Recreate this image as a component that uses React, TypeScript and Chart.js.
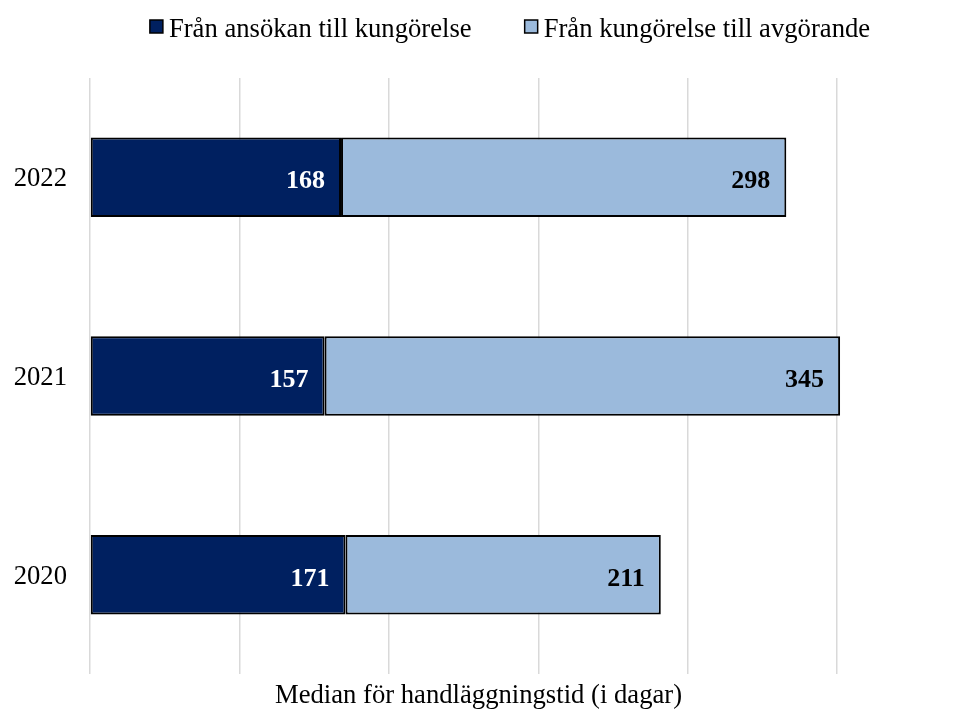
import React, { useEffect, useRef } from "react";
import { Chart, registerables } from "chart.js";

Chart.register(...registerables);

const categories = ["2022", "2021", "2020"];
const ansokanTillKungorelse = [168, 157, 171];
const kungorelseTillAvgorande = [298, 345, 211];
const seriesLabels = ["Från ansökan till kungörelse", "Från kungörelse till avgörande"];
const seriesColors = ["#002060", "#9BBADC"];
const labelColors = ["#ffffff", "#000000"];
const axisTitle = "Median för handläggningstid (i dagar)";
const gridTicks = [0, 100, 200, 300, 400, 500];

const FONT = "'Times New Roman', 'Liberation Serif', serif";

const legendPlugin = {
  id: "customLegend",
  afterDraw(chart: any) {
    const ctx = chart.ctx;
    ctx.save();
    ctx.font = `26.67px ${FONT}`;
    const box = 13;
    const gap = 6;
    const spacing = 53;
    const items = chart.data.datasets.map((ds: any) => ({
      label: ds.label,
      color: ds.backgroundColor,
      w: ctx.measureText(ds.label).width,
    }));
    const total =
      items.reduce((s: number, it: any) => s + box + gap + it.w, 0) + spacing * (items.length - 1);
    let x = 510 - total / 2;
    const boxTop = 20;
    const baseline = 37;
    items.forEach((it: any) => {
      ctx.fillStyle = it.color;
      ctx.fillRect(x, boxTop, box, box);
      ctx.lineWidth = 1.5;
      ctx.strokeStyle = "#000";
      ctx.strokeRect(x, boxTop, box, box);
      ctx.fillStyle = "#000";
      ctx.textAlign = "left";
      ctx.textBaseline = "alphabetic";
      ctx.fillText(it.label, x + box + gap, baseline);
      x += box + gap + it.w + spacing;
    });
    ctx.restore();
  },
};

const valueLabelPlugin = {
  id: "valueLabels",
  afterDatasetsDraw(chart: any) {
    const ctx = chart.ctx;
    ctx.save();
    ctx.font = `bold 26px ${FONT}`;
    ctx.textAlign = "right";
    ctx.textBaseline = "alphabetic";
    chart.data.datasets.forEach((ds: any, i: number) => {
      const meta = chart.getDatasetMeta(i);
      meta.data.forEach((bar: any, j: number) => {
        ctx.fillStyle = labelColors[i];
        ctx.fillText(String(ds.data[j]), bar.x - 16, bar.y + 11);
      });
    });
    ctx.restore();
  },
};

export default function App() {
  const canvasRef = useRef<HTMLCanvasElement | null>(null);

  useEffect(() => {
    document.body.style.margin = "0";
    const canvas = canvasRef.current;
    if (!canvas) return;
    const chart = new Chart(canvas, {
      type: "bar",
      data: {
        labels: categories,
        datasets: [
          {
            label: seriesLabels[0],
            data: ansokanTillKungorelse,
            backgroundColor: seriesColors[0],
            borderColor: "#000000",
            borderWidth: 2,
            borderSkipped: false,
            categoryPercentage: 1,
            barPercentage: 0.4,
          },
          {
            label: seriesLabels[1],
            data: kungorelseTillAvgorande,
            backgroundColor: seriesColors[1],
            borderColor: "#000000",
            borderWidth: 2,
            borderSkipped: false,
            categoryPercentage: 1,
            barPercentage: 0.4,
          },
        ],
      },
      options: {
        indexAxis: "y",
        animation: false,
        responsive: false,
        maintainAspectRatio: false,
        layout: { padding: { top: 78, left: 14, right: 107, bottom: 0 } },
        plugins: {
          legend: { display: false },
          tooltip: { enabled: false },
        },
        scales: {
          x: {
            stacked: true,
            min: 0,
            max: 520,
            ticks: { display: false, stepSize: 100 },
            afterBuildTicks: (scale: any) => {
              scale.ticks = gridTicks.map((v) => ({ value: v }));
            },
            grid: { color: "#d9d9d9", lineWidth: 1.5, drawTicks: false },
            border: { display: false },
            title: {
              display: true,
              text: axisTitle,
              color: "#000",
              font: { family: FONT, size: 26.67 },
              padding: { top: 6, bottom: 0 },
            },
          },
          y: {
            stacked: true,
            ticks: {
              color: "#000",
              font: { family: FONT, size: 26.67 },
              padding: 23,
              labelOffset: 2,
            },
            grid: { display: false, drawTicks: false },
            border: { display: false },
            afterFit: (scale: any) => {
              scale.width = 76;
            },
          },
        },
      },
      plugins: [legendPlugin, valueLabelPlugin],
    } as any);
    return () => chart.destroy();
  }, []);

  return (
    <div style={{ width: 974, height: 713 }}>
      <canvas ref={canvasRef} width={974} height={713} style={{ display: "block" }} />
    </div>
  );
}
